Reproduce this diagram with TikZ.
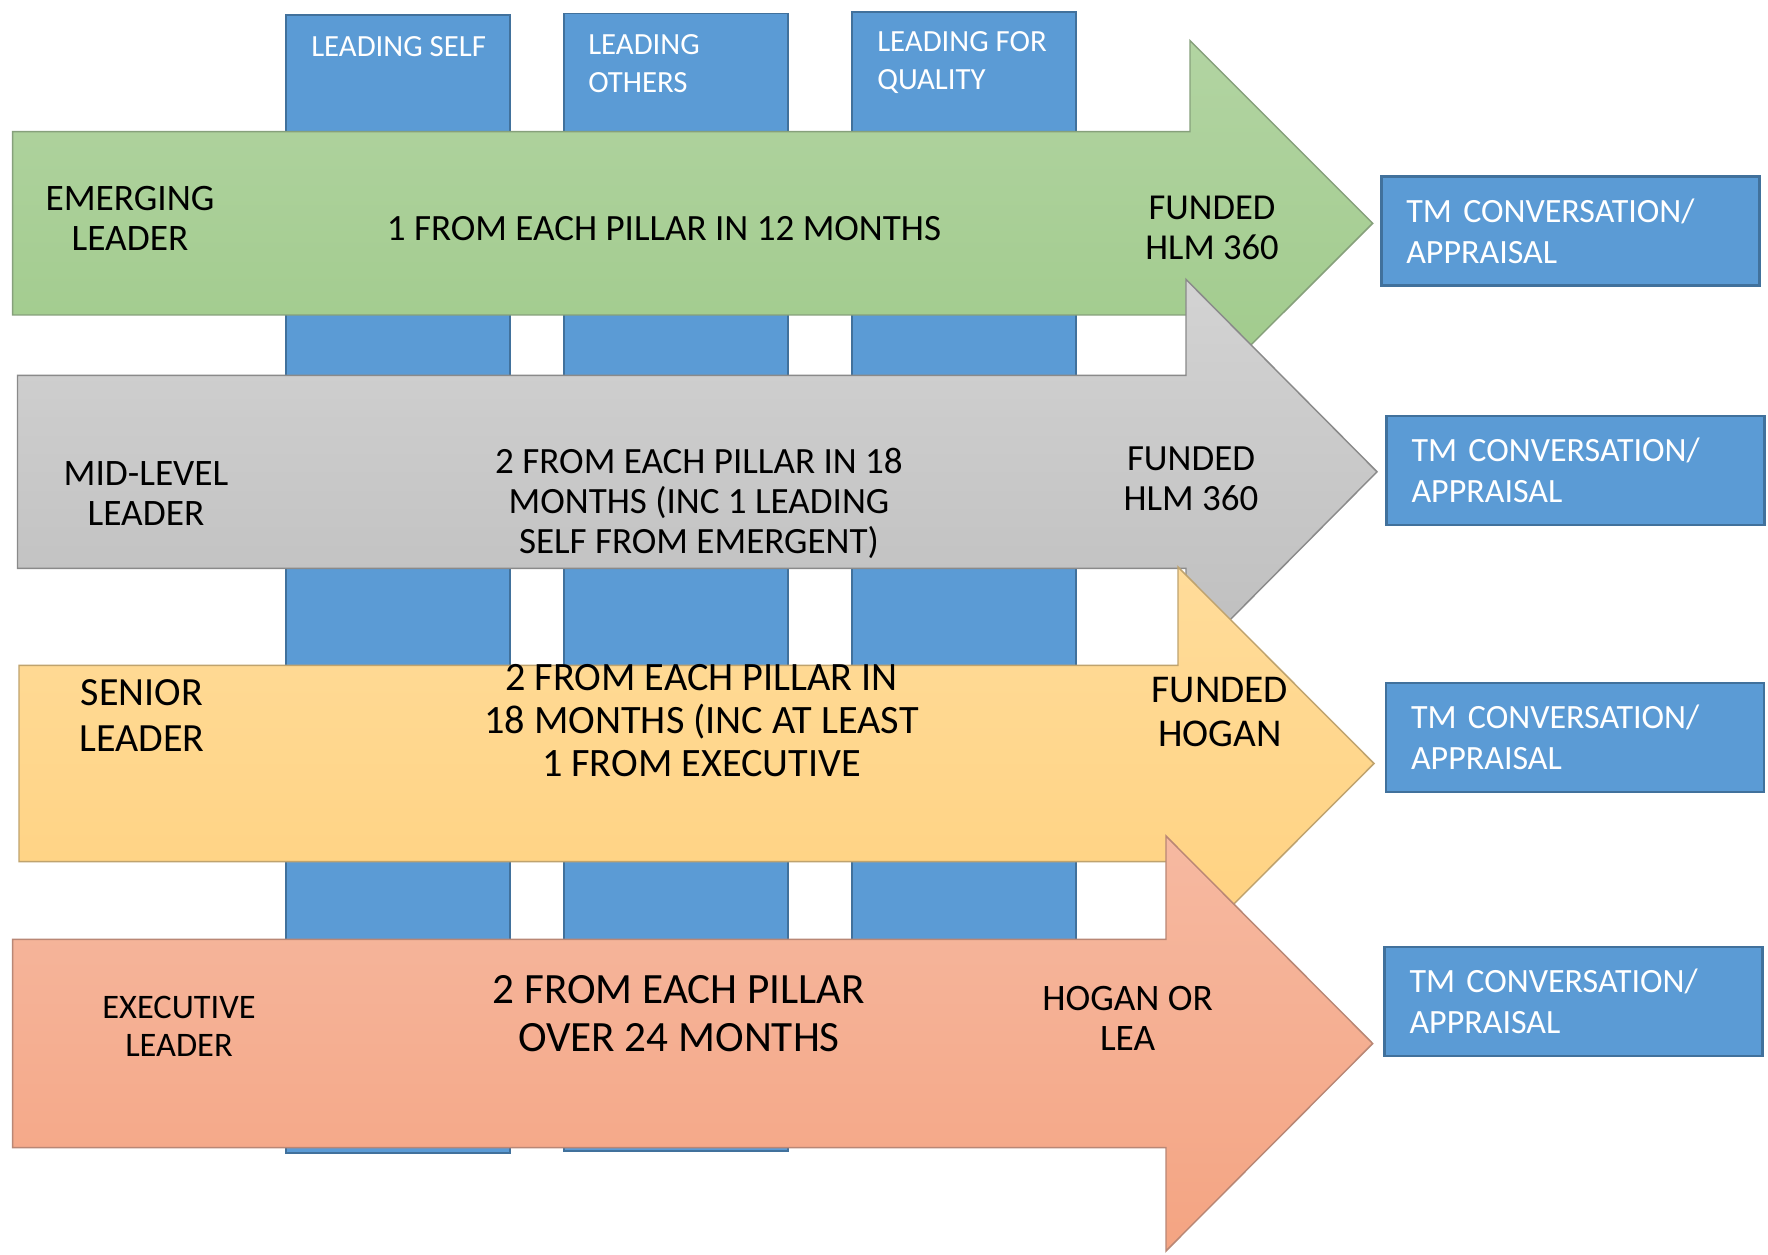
\documentclass[tikz,border=0pt]{standalone}
\usepackage{fontspec}
\setmainfont{Carlito}
\definecolor{pillarblue}{HTML}{5B9BD5}
\definecolor{pillaredge}{HTML}{41719C}
\definecolor{greentop}{HTML}{B2D4A2}
\definecolor{greenbot}{HTML}{9FCA8A}
\definecolor{greenedge}{HTML}{86A07B}
\definecolor{graytop}{HTML}{D3D3D3}
\definecolor{graybot}{HTML}{BEBEBE}
\definecolor{grayedge}{HTML}{8A8A8A}
\definecolor{yellowtop}{HTML}{FFDC9A}
\definecolor{yellowbot}{HTML}{FFD17F}
\definecolor{yellowedge}{HTML}{BFA36E}
\definecolor{salmontop}{HTML}{F6B9A1}
\definecolor{salmonbot}{HTML}{F4A482}
\definecolor{salmonedge}{HTML}{B98775}
\begin{document}
\begin{tikzpicture}[x=0.75pt,y=-0.75pt,
  pillar/.style={fill=pillarblue, draw=pillaredge, line width=1.2pt},
  tmbox/.style={fill=pillarblue, draw=pillaredge, line width=2pt,
    minimum width=283.5pt, minimum height=81.75pt, inner xsep=18.75pt, inner ysep=0pt,
    text width=246pt, align=left, text=white, font=\fontsize{25.5}{31}\selectfont},
  plab/.style={anchor=west, align=left, text=white, inner sep=0pt,
    font=\fontsize{23.1}{28.5}\selectfont},
  lab/.style={align=center, inner sep=0pt, text=black},
  arrowedge/.style={line width=1.1pt, line join=miter}
]
\useasboundingbox (0,0) rectangle (1768,1255);
\fill[white] (0,0) rectangle (1768,1255);

% pillars
\draw[pillar] (286,15.3) rectangle (510,1152.7);
\draw[pillar] (564,13.7) rectangle (788,1151);
\draw[pillar] (852,12.3) rectangle (1076,1146);
\node[plab] (ls) at (311,47) {LEADING SELF};
\node[plab] (lo) at (588,64) {LEADING\\OTHERS};
\node[plab] (lq) at (877,62.5) {LEADING FOR\\QUALITY};

% green arrow
\draw[arrowedge, draw=greenedge, top color=greentop, bottom color=greenbot]
  (12.6,131.7) -- (1190,131.7) -- (1190,40.7) -- (1372.7,223.3) -- (1190,405.9)
  -- (1190,315) -- (12.6,315) -- cycle;
\node[lab, font=\fontsize{28}{29.5}\selectfont] (em) at (130,218.5) {EMERGING\\LEADER};
\node[lab, font=\fontsize{27.8}{30}\selectfont] (emc) at (664,229) {1 FROM EACH PILLAR IN 12 MONTHS};
\node[lab, font=\fontsize{27.4}{30}\selectfont] (emf) at (1212,228) {FUNDED\\HLM 360};

% gray arrow
\draw[arrowedge, draw=grayedge, top color=graytop, bottom color=graybot]
  (17.5,375.3) -- (1186,375.3) -- (1186,279.4) -- (1377,471.8) -- (1186,664.2)
  -- (1186,568.3) -- (17.5,568.3) -- cycle;
\node[lab, font=\fontsize{28}{29.5}\selectfont] (ml) at (146,493.5) {MID-LEVEL\\LEADER};
\node[lab, font=\fontsize{27.8}{30}\selectfont] (mlc) at (699,503) {2 FROM EACH PILLAR IN 18\\MONTHS (INC 1 LEADING\\SELF FROM EMERGENT)};
\node[lab, font=\fontsize{27.7}{30}\selectfont] (mlf) at (1191,479) {FUNDED\\HLM 360};

% yellow arrow
\draw[arrowedge, draw=yellowedge, top color=yellowtop, bottom color=yellowbot]
  (19,665.3) -- (1178,665.3) -- (1178,567) -- (1374,763.5) -- (1178,960)
  -- (1178,861.7) -- (19,861.7) -- cycle;
\node[lab, font=\fontsize{30}{34}\selectfont] (sl) at (142,715.5) {SENIOR\\LEADER};
\node[lab, font=\fontsize{30.2}{32.5}\selectfont] (slc) at (701.5,720.5) {2 FROM EACH PILLAR IN\\18 MONTHS (INC AT LEAST\\1 FROM EXECUTIVE};
\node[lab, font=\fontsize{29.5}{33}\selectfont] (slf) at (1220,712) {FUNDED\\HOGAN};

% salmon arrow
\draw[arrowedge, draw=salmonedge, top color=salmontop, bottom color=salmonbot]
  (12.6,939.3) -- (1166,939.3) -- (1166,836) -- (1372.7,1043.5) -- (1166,1251)
  -- (1166,1147.7) -- (12.6,1147.7) -- cycle;
\node[lab, font=\fontsize{25.8}{28.5}\selectfont] (ex) at (179,1026) {EXECUTIVE\\LEADER};
\node[lab, font=\fontsize{32.4}{36}\selectfont] (exc) at (679,1013.5) {2 FROM EACH PILLAR\\OVER 24 MONTHS};
\node[lab, font=\fontsize{28}{30}\selectfont] (exf) at (1127.6,1018.3) {HOGAN OR\\LEA};

% TM boxes
\node[tmbox] (tm1) at (1570.3,231) {TM CONVERSATION/\\APPRAISAL};
\node[tmbox] (tm2) at (1575.5,470.4) {TM CONVERSATION/\\APPRAISAL};
\node[tmbox] (tm3) at (1575,737.4) {TM CONVERSATION/\\APPRAISAL};
\node[tmbox] (tm4) at (1573.5,1001.4) {TM CONVERSATION/\\APPRAISAL};
\end{tikzpicture}
\end{document}
